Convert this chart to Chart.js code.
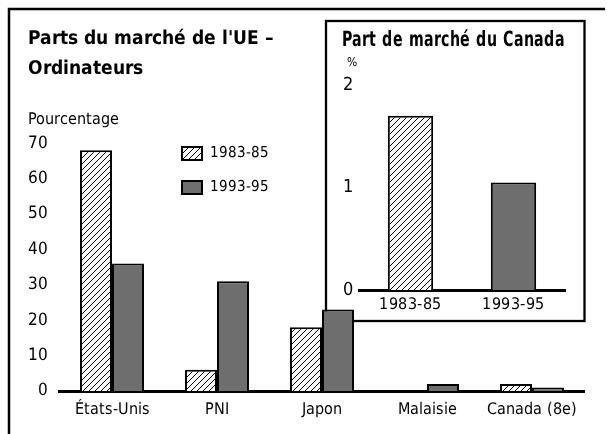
<!DOCTYPE html>
<html lang="fr">
<head>
<meta charset="utf-8">
<title>Parts du marché de l'UE – Ordinateurs</title>
<script src="https://cdn.jsdelivr.net/npm/chart.js@4.4.1/dist/chart.umd.min.js"></script>
<style>
  @font-face {
    font-family: 'Cond';
    font-weight: normal;
    src: local('Liberation Sans Narrow'), local('LiberationSansNarrow-Regular'), local('Arial Narrow'),
         local('DejaVu Sans Condensed'), local('DejaVuSansCondensed');
  }
  @font-face {
    font-family: 'Cond';
    font-weight: bold;
    src: local('Liberation Sans Narrow Bold'), local('LiberationSansNarrow-Bold'), local('Arial Narrow Bold'),
         local('DejaVu Sans Condensed Bold'), local('DejaVuSansCondensed-Bold');
  }
  html, body { margin: 0; padding: 0; background: #fff; }
  #wrap { position: relative; width: 607px; height: 434px; }
  #main { position: absolute; left: 0; top: 0; }
  #inset { position: absolute; left: 328px; top: 22px; }
</style>
</head>
<body>
<div id="wrap">
  <canvas id="main" width="607" height="434"></canvas>
  <canvas id="inset" width="255" height="298"></canvas>
</div>
<script>
var categories = ['États-Unis', 'PNI', 'Japon', 'Malaisie', 'Canada (8e)']
var periods = ['1983-85', '1993-95']
var share8385 = [68, 6, 18, 0, 2]
var share9395 = [36, 31, 23, 2, 1]
var canadaShare = [1.7, 1.05]

var FONT = "Cond, 'Liberation Sans Narrow', 'DejaVu Sans Condensed', sans-serif"
var GREY = '#6e6e6e'

Chart.defaults.font.family = FONT
Chart.defaults.color = '#000'

// diagonal hatching for the 1983-85 bars
function hatch(ctx) {
	var c = document.createElement('canvas')
	c.width = 6
	c.height = 6
	var g = c.getContext('2d')
	g.fillStyle = '#fff'
	g.fillRect(0, 0, 6, 6)
	g.strokeStyle = '#000'
	g.lineWidth = 1
	g.beginPath()
	g.moveTo(-1, 7); g.lineTo(7, -1)
	g.moveTo(-1, 1); g.lineTo(1, -1)
	g.moveTo(5, 7); g.lineTo(7, 5)
	g.stroke()
	return ctx.createPattern(c, 'repeat')
}

var mainCanvas = document.getElementById('main')
var pattern = hatch(mainCanvas.getContext('2d'))

function spacing(px) {
	return { id: 'spacing', beforeDraw: function(chart) { chart.ctx.letterSpacing = px } }
}

// page frame and the box around the inset
var frames = {
	id: 'frames',
	beforeDatasetsDraw: function(chart) {
		var ctx = chart.ctx
		ctx.save()
		ctx.strokeStyle = '#000'
		ctx.lineWidth = 2.5
		ctx.beginPath()
		ctx.moveTo(9, 434)
		ctx.lineTo(9, 9)
		ctx.lineTo(605, 9)
		ctx.stroke()
		ctx.lineWidth = 2.3
		ctx.strokeRect(326, 21, 258.5, 300)
		ctx.restore()
	}
}

var legendSpot = {
	id: 'legendSpot',
	afterLayout: function(chart) {
		chart.legend.left = 163
		chart.legend.top = 127
	}
}

// nudge the "%" unit label right, over the tick labels
var unitSpot = {
	id: 'unitSpot',
	afterLayout: function(chart) {
		chart.boxes.forEach(function(b) {
			if (b.options && b.options.text === '%') b.left += 5
		})
	}
}

var mainChart = new Chart(mainCanvas, {
	type: 'bar',
	data: {
		labels: categories,
		datasets: [
			{ label: periods[0], data: share8385, backgroundColor: pattern, borderColor: '#000', borderWidth: 2 },
			{ label: periods[1], data: share9395, backgroundColor: GREY, borderColor: '#000', borderWidth: 2 }
		]
	},
	options: {
		responsive: false,
		animation: false,
		devicePixelRatio: 1,
		datasets: { bar: { categoryPercentage: 0.61, barPercentage: 1 } },
		layout: { padding: { left: 27.5, right: 22.5, top: 10, bottom: 0 } },
		plugins: {
			title: {
				display: true,
				text: ["Parts du marché de l'UE –", 'Ordinateurs'],
				align: 'start',
				font: { size: 19, weight: 'bold', lineHeight: 30 / 19 },
				padding: { top: 14.5, bottom: 0 }
			},
			subtitle: {
				display: true,
				text: 'Pourcentage',
				align: 'start',
				font: { size: 15.5, lineHeight: 1.2 },
				padding: { top: 26.5, bottom: 13.5 }
			},
			legend: {
				position: 'chartArea',
				align: 'start',
				labels: { boxWidth: 20, boxHeight: 13, padding: 19, font: { size: 15 } }
			},
			tooltip: { enabled: false }
		},
		scales: {
			x: {
				z: 1,
				grid: { display: false, drawTicks: false },
				border: { color: '#000', width: 3 },
				ticks: { font: { size: 15.5 }, padding: 9.5, maxRotation: 0, autoSkip: false },
				afterFit: function(s) { s.height = 43 }
			},
			y: {
				min: 0,
				max: 70,
				grid: { display: false, drawTicks: false },
				border: { display: false },
				ticks: { stepSize: 10, font: { size: 17 }, padding: 11.5 },
				afterFit: function(s) { s.width = 32 }
			}
		}
	},
	plugins: [spacing('0px'), frames, legendSpot]
})

var insetChart = new Chart(document.getElementById('inset'), {
	type: 'bar',
	data: {
		labels: periods,
		datasets: [{ data: canadaShare, backgroundColor: [pattern, GREY], borderColor: '#000', borderWidth: 2 }]
	},
	options: {
		responsive: false,
		animation: false,
		devicePixelRatio: 1,
		datasets: { bar: { categoryPercentage: 0.44, barPercentage: 1 } },
		layout: { padding: { left: 14, right: 18, top: 0, bottom: 0 } },
		plugins: {
			legend: { display: false },
			tooltip: { enabled: false },
			title: {
				display: true,
				text: 'Part de marché du Canada',
				align: 'center',
				font: { size: 20.5, weight: 'bold', lineHeight: 1.2 },
				padding: { top: 6.7, bottom: 0 }
			},
			subtitle: {
				display: true,
				text: '%',
				align: 'start',
				font: { size: 12, lineHeight: 1.2 },
				padding: { top: 2.5, bottom: 14.8 }
			}
		},
		scales: {
			x: {
				z: 1,
				grid: { display: false, drawTicks: false },
				border: { color: '#000', width: 3 },
				ticks: { font: { size: 16 }, padding: 5 },
				afterFit: function(s) { s.height = 30 }
			},
			y: {
				min: 0,
				max: 2,
				grid: { display: false, drawTicks: false },
				border: { display: false },
				ticks: { stepSize: 1, font: { size: 18 }, padding: 6 },
				afterFit: function(s) { s.width = 17 }
			}
		}
	},
	plugins: [spacing('0.5px'), unitSpot]
})

// redraw once the condensed faces are really loaded
Promise.all([
	document.fonts.load('16px Cond'),
	document.fonts.load('bold 16px Cond')
]).then(function() {
	mainChart.update()
	insetChart.update()
})
</script>
</body>
</html>
